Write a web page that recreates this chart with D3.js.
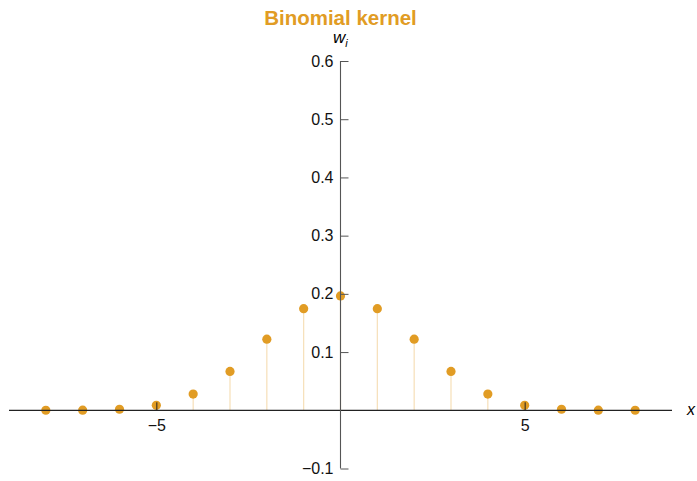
<!DOCTYPE html>
<html>
<head>
<meta charset="utf-8">
<script src="https://cdn.jsdelivr.net/npm/d3@7"></script>
<style>
  body { margin: 0; background: #fff; }
  text { font-family: "Liberation Sans", Arial, sans-serif; }
</style>
</head>
<body>
<div id="chart"></div>
<script>
// kernel positions and weights
var positions = [-8, -7, -6, -5, -4, -3, -2, -1, 0, 1, 2, 3, 4, 5, 6, 7, 8];
var weights = [0.00002, 0.0002, 0.0018, 0.0085, 0.0278, 0.0667, 0.1222, 0.1746, 0.1964,
               0.1746, 0.1222, 0.0667, 0.0278, 0.0085, 0.0018, 0.0002, 0.00002];
var xMajorTicks = [-5, 5];
var xMinorTicks = [-9, -8, -7, -6, -4, -3, -2, -1, 1, 2, 3, 4, 6, 7, 8, 9];
var yMajorTicks = [-0.1, 0.1, 0.2, 0.3, 0.4, 0.5, 0.6];
var yMinorTicks = [-0.08, -0.06, -0.04, -0.02, 0.02, 0.04, 0.06, 0.08,
                   0.12, 0.14, 0.16, 0.18, 0.22, 0.24, 0.26, 0.28,
                   0.32, 0.34, 0.36, 0.38, 0.42, 0.44, 0.46, 0.48,
                   0.52, 0.54, 0.56, 0.58];

var width = 697, height = 481;
var orange = "#e19c24";

var svg = d3.select("#chart")
  .append("svg")
    .attr("width", width)
    .attr("height", height);

var x = d3.scaleLinear().domain([-9, 9]).range([9, 672]);
var y = d3.scaleLinear().domain([-0.1, 0.6]).range([468.5, 61]);

// stems
svg.selectAll(".stem")
  .data(positions)
  .enter()
  .append("line")
    .attr("class", "stem")
    .attr("x1", function(d) { return x(d) })
    .attr("x2", function(d) { return x(d) })
    .attr("y1", y(0))
    .attr("y2", function(d, i) { return y(weights[i]) })
    .style("stroke", "#f6dfb8")
    .style("stroke-width", 1.2);

// points
svg.selectAll(".pt")
  .data(positions)
  .enter()
  .append("circle")
    .attr("class", "pt")
    .attr("cx", function(d) { return x(d) })
    .attr("cy", function(d, i) { return y(weights[i]) })
    .attr("r", 4.6)
    .style("fill", orange);

// x axis
var xg = svg.append("g").attr("transform", "translate(0," + y(0) + ")");
xg.call(d3.axisBottom(x).tickValues(xMinorTicks).tickSize(-5).tickFormat(""));
xg.call(d3.axisBottom(x).tickValues(xMajorTicks).tickSizeInner(-8).tickSizeOuter(0)
  .tickPadding(9).tickFormat(d3.format("d")));
xg.selectAll(".domain").remove();
xg.append("line")
  .attr("x1", x(-9)).attr("x2", x(9))
  .style("stroke", "#222").style("stroke-width", 1.3);
xg.selectAll("line").style("stroke", "#222");
xg.selectAll("text").style("font-size", "16px").style("fill", "#111");

// y axis
var yg = svg.append("g").attr("transform", "translate(" + x(0) + ",0)");
yg.call(d3.axisLeft(y).tickValues(yMinorTicks).tickSize(-4).tickFormat(""));
yg.call(d3.axisLeft(y).tickValues(yMajorTicks).tickSizeInner(-8).tickSizeOuter(0)
  .tickPadding(7).tickFormat(d3.format(".1f")));
yg.selectAll(".domain").remove();
yg.append("line")
  .attr("y1", y(-0.1)).attr("y2", y(0.6))
  .style("stroke", "#555").style("stroke-width", 1.1);
yg.selectAll(".tick line").style("stroke", "#555");
yg.selectAll("text").style("font-size", "16px").style("fill", "#111");

// axis labels
svg.append("text")
  .attr("x", 333)
  .attr("y", 43)
  .style("font-size", "17px")
  .style("font-style", "italic")
  .text("w")
  .append("tspan")
    .attr("dy", 4)
    .style("font-size", "11px")
    .text("i");

svg.append("text")
  .attr("x", 687)
  .attr("y", y(0) + 5)
  .style("font-size", "16px")
  .style("font-style", "italic")
  .text("x");

// title
svg.append("text")
  .attr("x", x(0))
  .attr("y", 25)
  .attr("text-anchor", "middle")
  .style("font-size", "20.5px")
  .style("font-weight", "bold")
  .style("fill", orange)
  .text("Binomial kernel");
</script>
</body>
</html>
